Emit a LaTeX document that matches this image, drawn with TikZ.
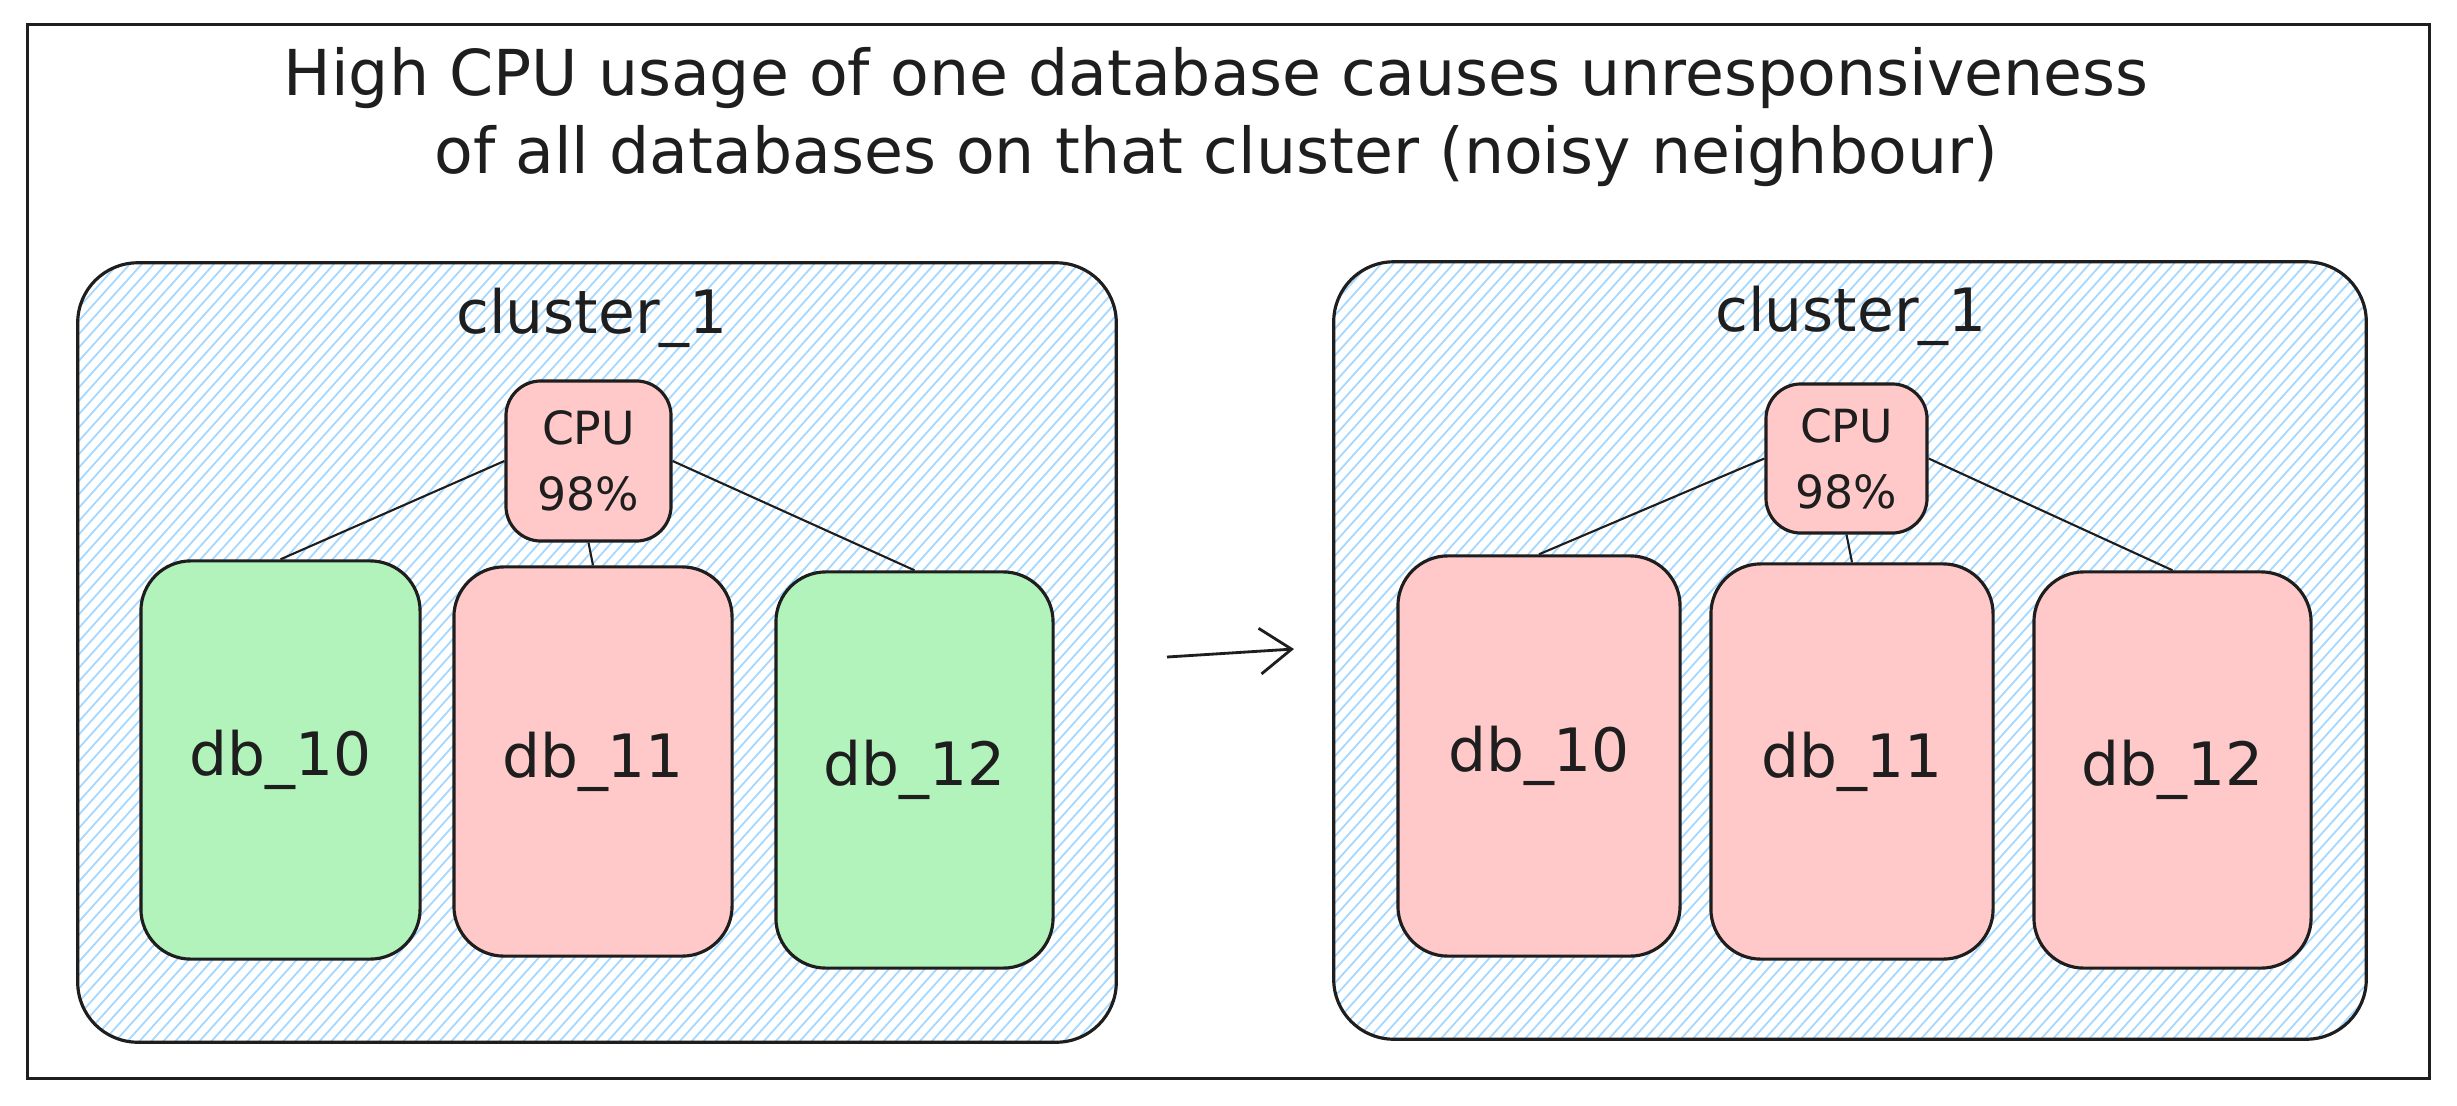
\documentclass[tikz,border=0pt]{standalone}
\usepackage{fontspec}
\setmainfont{DejaVu Sans}
\usetikzlibrary{arrows.meta}
\definecolor{ink}{HTML}{1E1E1E}
\definecolor{hatchblue}{HTML}{A5D8FF}
\definecolor{dbgreen}{HTML}{B2F2BB}
\definecolor{dbred}{HTML}{FFC9C9}
\tikzset{
  hatched/.style={path picture={
    \foreach \k in {-78,...,78}{
      \draw[hatchblue, line width=0.5pt]
        ([xshift=\k*0.12cm]path picture bounding box.center) ++(-4.01cm,-4.46cm) -- ++(8.02cm,8.92cm);
    }}},
  frame/.style={draw=ink, line width=0.9pt, inner sep=0pt},
  cluster/.style={draw=ink, line width=0.9pt, rounded corners=0.6cm, hatched, inner sep=0pt},
  clusterlabel/.style={text=ink, font=\fontsize{17}{20}\selectfont},
  cpubox/.style={draw=ink, fill=dbred, line width=0.9pt, rounded corners=0.35cm, align=center,
    text=ink, font=\fontsize{13}{18.7}\selectfont, inner sep=0pt},
  dbbox/.style={draw=ink, line width=0.9pt, rounded corners=0.5cm, text=ink,
    font=\fontsize{17}{20}\selectfont, inner sep=0pt},
  okdb/.style={dbbox, fill=dbgreen},
  hotdb/.style={dbbox, fill=dbred},
  conn/.style={draw=ink, line width=0.6pt},
  titletext/.style={text=ink, align=center, font=\fontsize{18}{22.4}\selectfont}
}
\begin{document}
\begin{tikzpicture}[x=0.01cm, y=-0.01cm]
  \useasboundingbox (0,0) rectangle (2457,1106);
  \fill[white] (0,0) rectangle (2457,1106);

  \node[frame, minimum width=24.01cm, minimum height=10.53cm] (frame) at (1228.5,551.5) {};
  \node[titletext] (title) at (1216,117)
    {High CPU usage of one database causes unresponsiveness\\of all databases on that cluster (noisy neighbour)};

  % left cluster
  \node[cluster, minimum width=10.38cm, minimum height=7.79cm] (c1) at (597,652.5) {};
  \node[clusterlabel] (l1) at (592,318) {cluster\_1};
  \node[cpubox, minimum width=1.65cm, minimum height=1.6cm] (cpu1) at (588.5,461) {CPU\\98\%};
  \node[okdb, minimum width=2.79cm, minimum height=3.98cm] (db10a) at (280.5,760) {db\_10};
  \node[hotdb, minimum width=2.78cm, minimum height=3.89cm] (db11a) at (593,761.5) {db\_11};
  \node[okdb, minimum width=2.77cm, minimum height=3.96cm] (db12a) at (914.5,770) {db\_12};
  \draw[conn] (cpu1.west) -- (db10a.north);
  \draw[conn] (cpu1.south) -- (db11a.north);
  \draw[conn] (cpu1.east) -- (db12a.north);

  % arrow
  \coordinate (a1) at (1167,657);
  \coordinate (a2) at (1294,649);
  \draw[conn, line width=0.8pt, -{Straight Barb[length=9pt,width=13pt]}] (a1) -- (a2);

  % right cluster
  \node[cluster, minimum width=10.32cm, minimum height=7.77cm] (c2) at (1850,650.5) {};
  \node[clusterlabel] (l2) at (1851,316) {cluster\_1};
  \node[cpubox, minimum width=1.61cm, minimum height=1.49cm] (cpu2) at (1846.5,458.5) {CPU\\98\%};
  \node[hotdb, minimum width=2.82cm, minimum height=4.0cm] (db10b) at (1539,756) {db\_10};
  \node[hotdb, minimum width=2.82cm, minimum height=3.95cm] (db11b) at (1852,761.5) {db\_11};
  \node[hotdb, minimum width=2.77cm, minimum height=3.96cm] (db12b) at (2172.5,770) {db\_12};
  \draw[conn] (cpu2.west) -- (db10b.north);
  \draw[conn] (cpu2.south) -- (db11b.north);
  \draw[conn] (cpu2.east) -- (db12b.north);
\end{tikzpicture}
\end{document}
